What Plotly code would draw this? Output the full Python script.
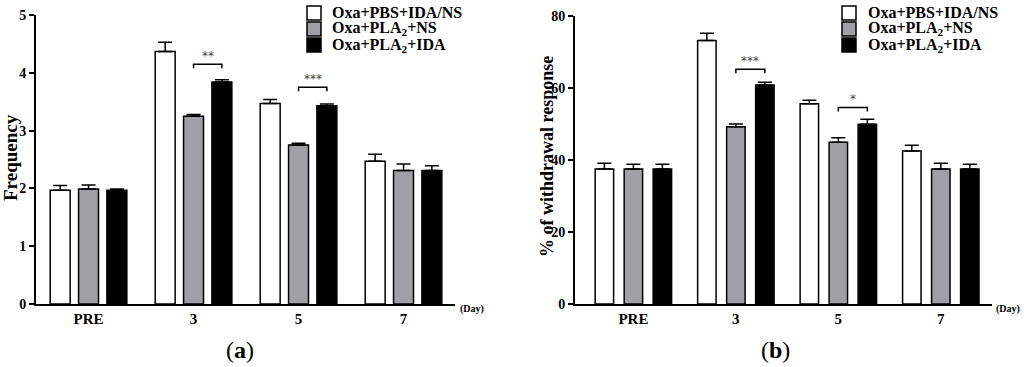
import plotly.graph_objects as go

categories = ["PRE", "3", "5", "7"]
series_names = ["Oxa+PBS+IDA/NS", "Oxa+PLA<sub>2</sub>+NS", "Oxa+PLA<sub>2</sub>+IDA"]

# Panel (a): Frequency
freq_mean = [
    [1.97, 4.37, 3.47, 2.47],
    [1.99, 3.25, 2.75, 2.31],
    [1.97, 3.84, 3.43, 2.31],
]
freq_err = [
    [0.08, 0.16, 0.07, 0.12],
    [0.07, 0.03, 0.03, 0.11],
    [0.02, 0.04, 0.03, 0.08],
]
# Panel (b): % of withdrawal response
pct_mean = [
    [37.5, 73.2, 55.6, 42.5],
    [37.5, 49.2, 44.9, 37.5],
    [37.5, 60.8, 49.9, 37.5],
]
pct_err = [
    [1.6, 2.0, 1.0, 1.6],
    [1.3, 0.8, 1.3, 1.6],
    [1.3, 0.8, 1.4, 1.3],
]
# significance brackets: (category index, y level, label) between series 1 and 2
sig_a = [(1, 4.15, "**"), (2, 3.75, "***")]
sig_b = [(1, 65.2, "***"), (2, 54.6, "*")]

fills = ["#ffffff", "#a0a0a4", "#000000"]
FONT = "Liberation Serif"
W, H = 1024, 367

fig = go.Figure()

panels = [
    dict(means=freq_mean, errs=freq_err, xa="x", ya="y",
         width=0.19, step=0.27, sig=sig_a, tick=0.07, leg_box=307, leg_text=330),
    dict(means=pct_mean, errs=pct_err, xa="x2", ya="y2",
         width=0.18, step=0.283, sig=sig_b, tick=1.1, leg_box=842, leg_text=866),
]

for p in panels:
    for i in range(3):
        center = (i - 1) * p["step"]
        fig.add_trace(go.Bar(
            x=categories, y=p["means"][i], name=series_names[i],
            xaxis=p["xa"], yaxis=p["ya"], showlegend=False,
            width=p["width"], offset=center - p["width"] / 2,
            marker=dict(color=fills[i], line=dict(color="black", width=1.5)),
            error_y=dict(type="data", array=p["errs"][i], arrayminus=[0] * 4,
                         symmetric=False, color="black", thickness=1.5, width=7),
        ))
    for (ci, yv, lab) in p["sig"]:
        x0 = ci
        x1 = ci + p["step"]
        fig.add_shape(type="path",
                      path=f"M {x0},{yv - p['tick']} L {x0},{yv} L {x1},{yv} L {x1},{yv - p['tick']}",
                      xref=p["xa"], yref=p["ya"], line=dict(color="black", width=1.5))
        fig.add_annotation(x=(x0 + x1) / 2, y=yv, xref=p["xa"], yref=p["ya"],
                           text=lab, showarrow=False, yanchor="bottom", yshift=-1,
                           font=dict(family="DejaVu Sans", size=12, color="#444444"))
    # legend (boxes + labels)
    for i in range(3):
        cy = 13 + 16 * i
        fig.add_shape(type="rect", xref="paper", yref="paper",
                      x0=p["leg_box"] / W, x1=(p["leg_box"] + 14) / W,
                      y0=(H - cy - 7) / H, y1=(H - cy + 7) / H,
                      fillcolor=fills[i], line=dict(color="black", width=1.5))
        fig.add_annotation(x=p["leg_text"] / W, y=(H - cy) / H, xref="paper", yref="paper",
                           xanchor="left", yanchor="middle", showarrow=False,
                           text="<b>" + series_names[i] + "</b>",
                           font=dict(family=FONT, size=16, color="black"))

line_common = dict(showline=True, linecolor="black", linewidth=2, showgrid=False,
                   zeroline=False, automargin=False)
ytick_common = dict(ticks="outside", ticklen=5, tickwidth=2, tickcolor="black",
                    tickfont=dict(family=FONT, size=14, color="black"),
                    tickprefix="<b>", ticksuffix="</b>")
xtick_common = dict(ticks="", tickfont=dict(family=FONT, size=15, color="black"),
                    tickprefix="<b>", ticksuffix="</b>")

fig.update_layout(
    width=W, height=H, margin=dict(l=0, r=0, t=0, b=0, autoexpand=False),
    paper_bgcolor="white", plot_bgcolor="white",
    barmode="group", showlegend=False,
    font=dict(family=FONT, color="black"),
    xaxis=dict(domain=[0.0352, 0.4443], range=[-0.5, 3.49], anchor="y",
               **line_common, **xtick_common),
    yaxis=dict(domain=[0.1717, 0.9591], range=[0, 5], dtick=1, anchor="x",
               **line_common, **ytick_common),
    xaxis2=dict(domain=[0.5615, 0.9688], range=[-0.57, 3.5], anchor="y2",
                **line_common, **xtick_common),
    yaxis2=dict(domain=[0.1717, 0.9564], range=[0, 80], dtick=20, anchor="x2",
                **line_common, **ytick_common),
)

# Axis titles and panel labels
fig.add_annotation(x=10 / W, y=(H - 158) / H, xref="paper", yref="paper",
                   xanchor="center", yanchor="middle",
                   text="<b>Frequency</b>", textangle=-90, showarrow=False,
                   font=dict(family=FONT, size=19, color="black"))
fig.add_annotation(x=547 / W, y=(H - 157) / H, xref="paper", yref="paper",
                   xanchor="center", yanchor="middle",
                   text="<b>% of withdrawal response</b>", textangle=-90, showarrow=False,
                   font=dict(family=FONT, size=18, color="black"))
fig.add_annotation(x=472 / W, y=(H - 309) / H, xref="paper", yref="paper",
                   xanchor="center", yanchor="middle",
                   text="<b>(Day)</b>", showarrow=False,
                   font=dict(family=FONT, size=10, color="black"))
fig.add_annotation(x=1008 / W, y=(H - 309) / H, xref="paper", yref="paper",
                   xanchor="center", yanchor="middle",
                   text="<b>(Day)</b>", showarrow=False,
                   font=dict(family=FONT, size=10, color="black"))
fig.add_annotation(x=240 / W, y=(H - 350) / H, xref="paper", yref="paper",
                   xanchor="center", yanchor="middle",
                   text="(<b>a</b>)", showarrow=False,
                   font=dict(family=FONT, size=24, color="black"))
fig.add_annotation(x=775 / W, y=(H - 350) / H, xref="paper", yref="paper",
                   xanchor="center", yanchor="middle",
                   text="(<b>b</b>)", showarrow=False,
                   font=dict(family=FONT, size=24, color="black"))

fig.write_html("out.html", config={"displayModeBar": False},
               post_script="document.body.style.margin='0';document.body.style.overflow='hidden';")
